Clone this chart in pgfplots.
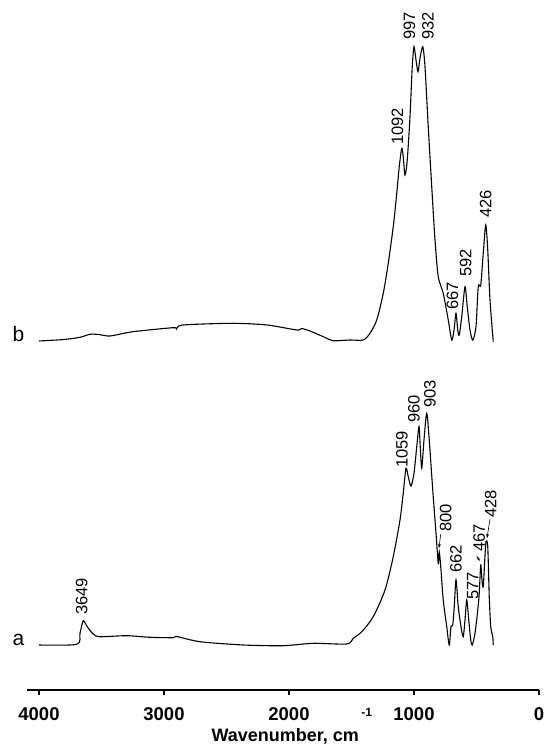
\documentclass[border=0pt]{standalone}
\usepackage{pgfplots}
\pgfplotsset{compat=1.18}
\usepackage{fontspec}
\setmainfont{Liberation Sans}
\usetikzlibrary{arrows.meta}
\begin{document}
\begin{tikzpicture}
\begin{axis}[
  name=ax,
  scale only axis, width=512.3pt, height=690pt,
  x dir=reverse, xmin=0, xmax=4098.4, ymin=0, ymax=690,
  axis x line*=bottom, axis y line=none,
  axis line style={line width=1.6pt, black},
  clip=false,
  xtick={0,1000,2000,3000,4000},
  xticklabels={0,1000,2000,3000,4000},
  tick align=outside, major tick length=4.5pt,
  tick style={line width=1.6pt, black},
  xticklabel style={font=\fontsize{18.5}{20}\selectfont\bfseries, anchor=base, yshift=-26pt},
  xlabel={Wavenumber, cm},
  xlabel style={name=xl, font=\fontsize{18}{20}\selectfont\bfseries, at={(axis cs:2030,0)}, anchor=base, yshift=-51pt, inner sep=0pt},
]
% curve b
\addplot[black, line width=1.1pt, smooth, tension=0.45] coordinates {
(4000,349) (3800,350.5) (3672,352.7) (3592,355.7) (3520,355.5) (3432,354) (3248,358.3) (2928,362.3) (2900,361) (2848,365)
(2448,366.7) (2176,365) (1936,360) (1900,361.5) (1832,359) (1720,353) (1648,349.3) (1512,350) (1406,350)
(1352,356.7) (1298,370) (1246,396.7) (1206,426.7) (1166,463.3) (1138,496.7) (1118,523.3)
(1098,541.7) (1086,533.3) (1072,515) (1054,530) (1032,573.3) (1014,623.3) (1000,643.3)
(984,630) (968,618.3) (952,631.7) (930,643.3) (912,623.3) (886,563.3) (858,503.3) (832,450)
(806,413.3) (766,396.7) (726,370) (698,350) (680,360) (664,376.7) (650,360) (638,355)
(618,373.3) (592,403.3) (574,383.3) (552,360) (530,350) (504,363.3) (486,403.3) (466,405)
(446,436.7) (426,465) (410,440) (392,390) (366,348.3)
};
% curve a
\addplot[black, line width=1.1pt, smooth, tension=0.45] coordinates {
(4000,45) (3698,45.7) (3672,56.7) (3646,69.3) (3614,63.3) (3566,56) (3512,53.3) (3298,54.3)
(3112,52.7) (2926,52.3) (2900,53.5) (2712,48.3) (2366,45) (2046,44.3) (1806,46.7) (1538,46)
(1486,51.7) (1418,58.3) (1326,73.3) (1232,100) (1166,133.3) (1112,170) (1086,196.7)
(1064,221.7) (1046,213.3) (1024,204) (1000,216.7) (978,243.3) (960,263.3) (950,243.3)
(938,221.7) (920,250) (898,276.7) (878,250) (850,200) (824,156.7) (806,126.7) (798,138.3)
(786,123.3) (766,90) (738,63.3) (718,45) (704,63.3) (690,65) (678,83.3) (664,110)
(646,83.3) (624,63.3) (606,53.3) (592,70) (578,90) (562,70) (546,50) (534,45) (512,56.7)
(490,80) (478,96.7) (466,125) (456,110) (446,103.3) (434,130) (424,148.3) (410,143.3)
(398,93.3) (386,63.3) (370,53.3) (366,45)
};
% series letters
\node[font=\fontsize{21}{22}\selectfont] at (axis cs:4165,356) {b};
\node[font=\fontsize{21}{22}\selectfont] at (axis cs:4165,50) {a};
% peak labels
\begin{scope}[every node/.style={rotate=90, anchor=west, inner sep=0pt, font=\fontsize{16.5}{18}\selectfont}]
\node at (axis cs:1132,545) {1092};
\node at (axis cs:1036,650) {997};
\node at (axis cs:888,650) {932};
\node at (axis cs:692,380) {667};
\node at (axis cs:586,413) {592};
\node at (axis cs:426,472) {426};
\node at (axis cs:3659,75) {3649};
\node at (axis cs:1096,222) {1059};
\node at (axis cs:1000,267) {960};
\node at (axis cs:872,282) {903};
\node at (axis cs:746,158) {800};
\node at (axis cs:665,117) {662};
\node at (axis cs:530,90) {577};
\node at (axis cs:479,138) {467};
\node at (axis cs:386,172) {428};
\end{scope}
\draw[-{Stealth[length=4pt,width=3pt]}, line width=0.6pt] (axis cs:786,156) -- (axis cs:800,142);
\draw[-{Stealth[length=4pt,width=3pt]}, line width=0.6pt] (axis cs:498,134) -- (axis cs:474,129);
\draw[-{Stealth[length=4pt,width=3pt]}, line width=0.6pt] (axis cs:392,171) -- (axis cs:416,152);
\end{axis}
\node[anchor=base west, inner sep=0pt, font=\fontsize{12}{13}\selectfont\bfseries] at ([xshift=2pt,yshift=25pt]xl.base east) {-1};
\pgfresetboundingbox
\path[use as bounding box] ([xshift=-26.7pt,yshift=-60pt]ax.south west) rectangle ([xshift=6pt]ax.north east);
\end{tikzpicture}
\end{document}
